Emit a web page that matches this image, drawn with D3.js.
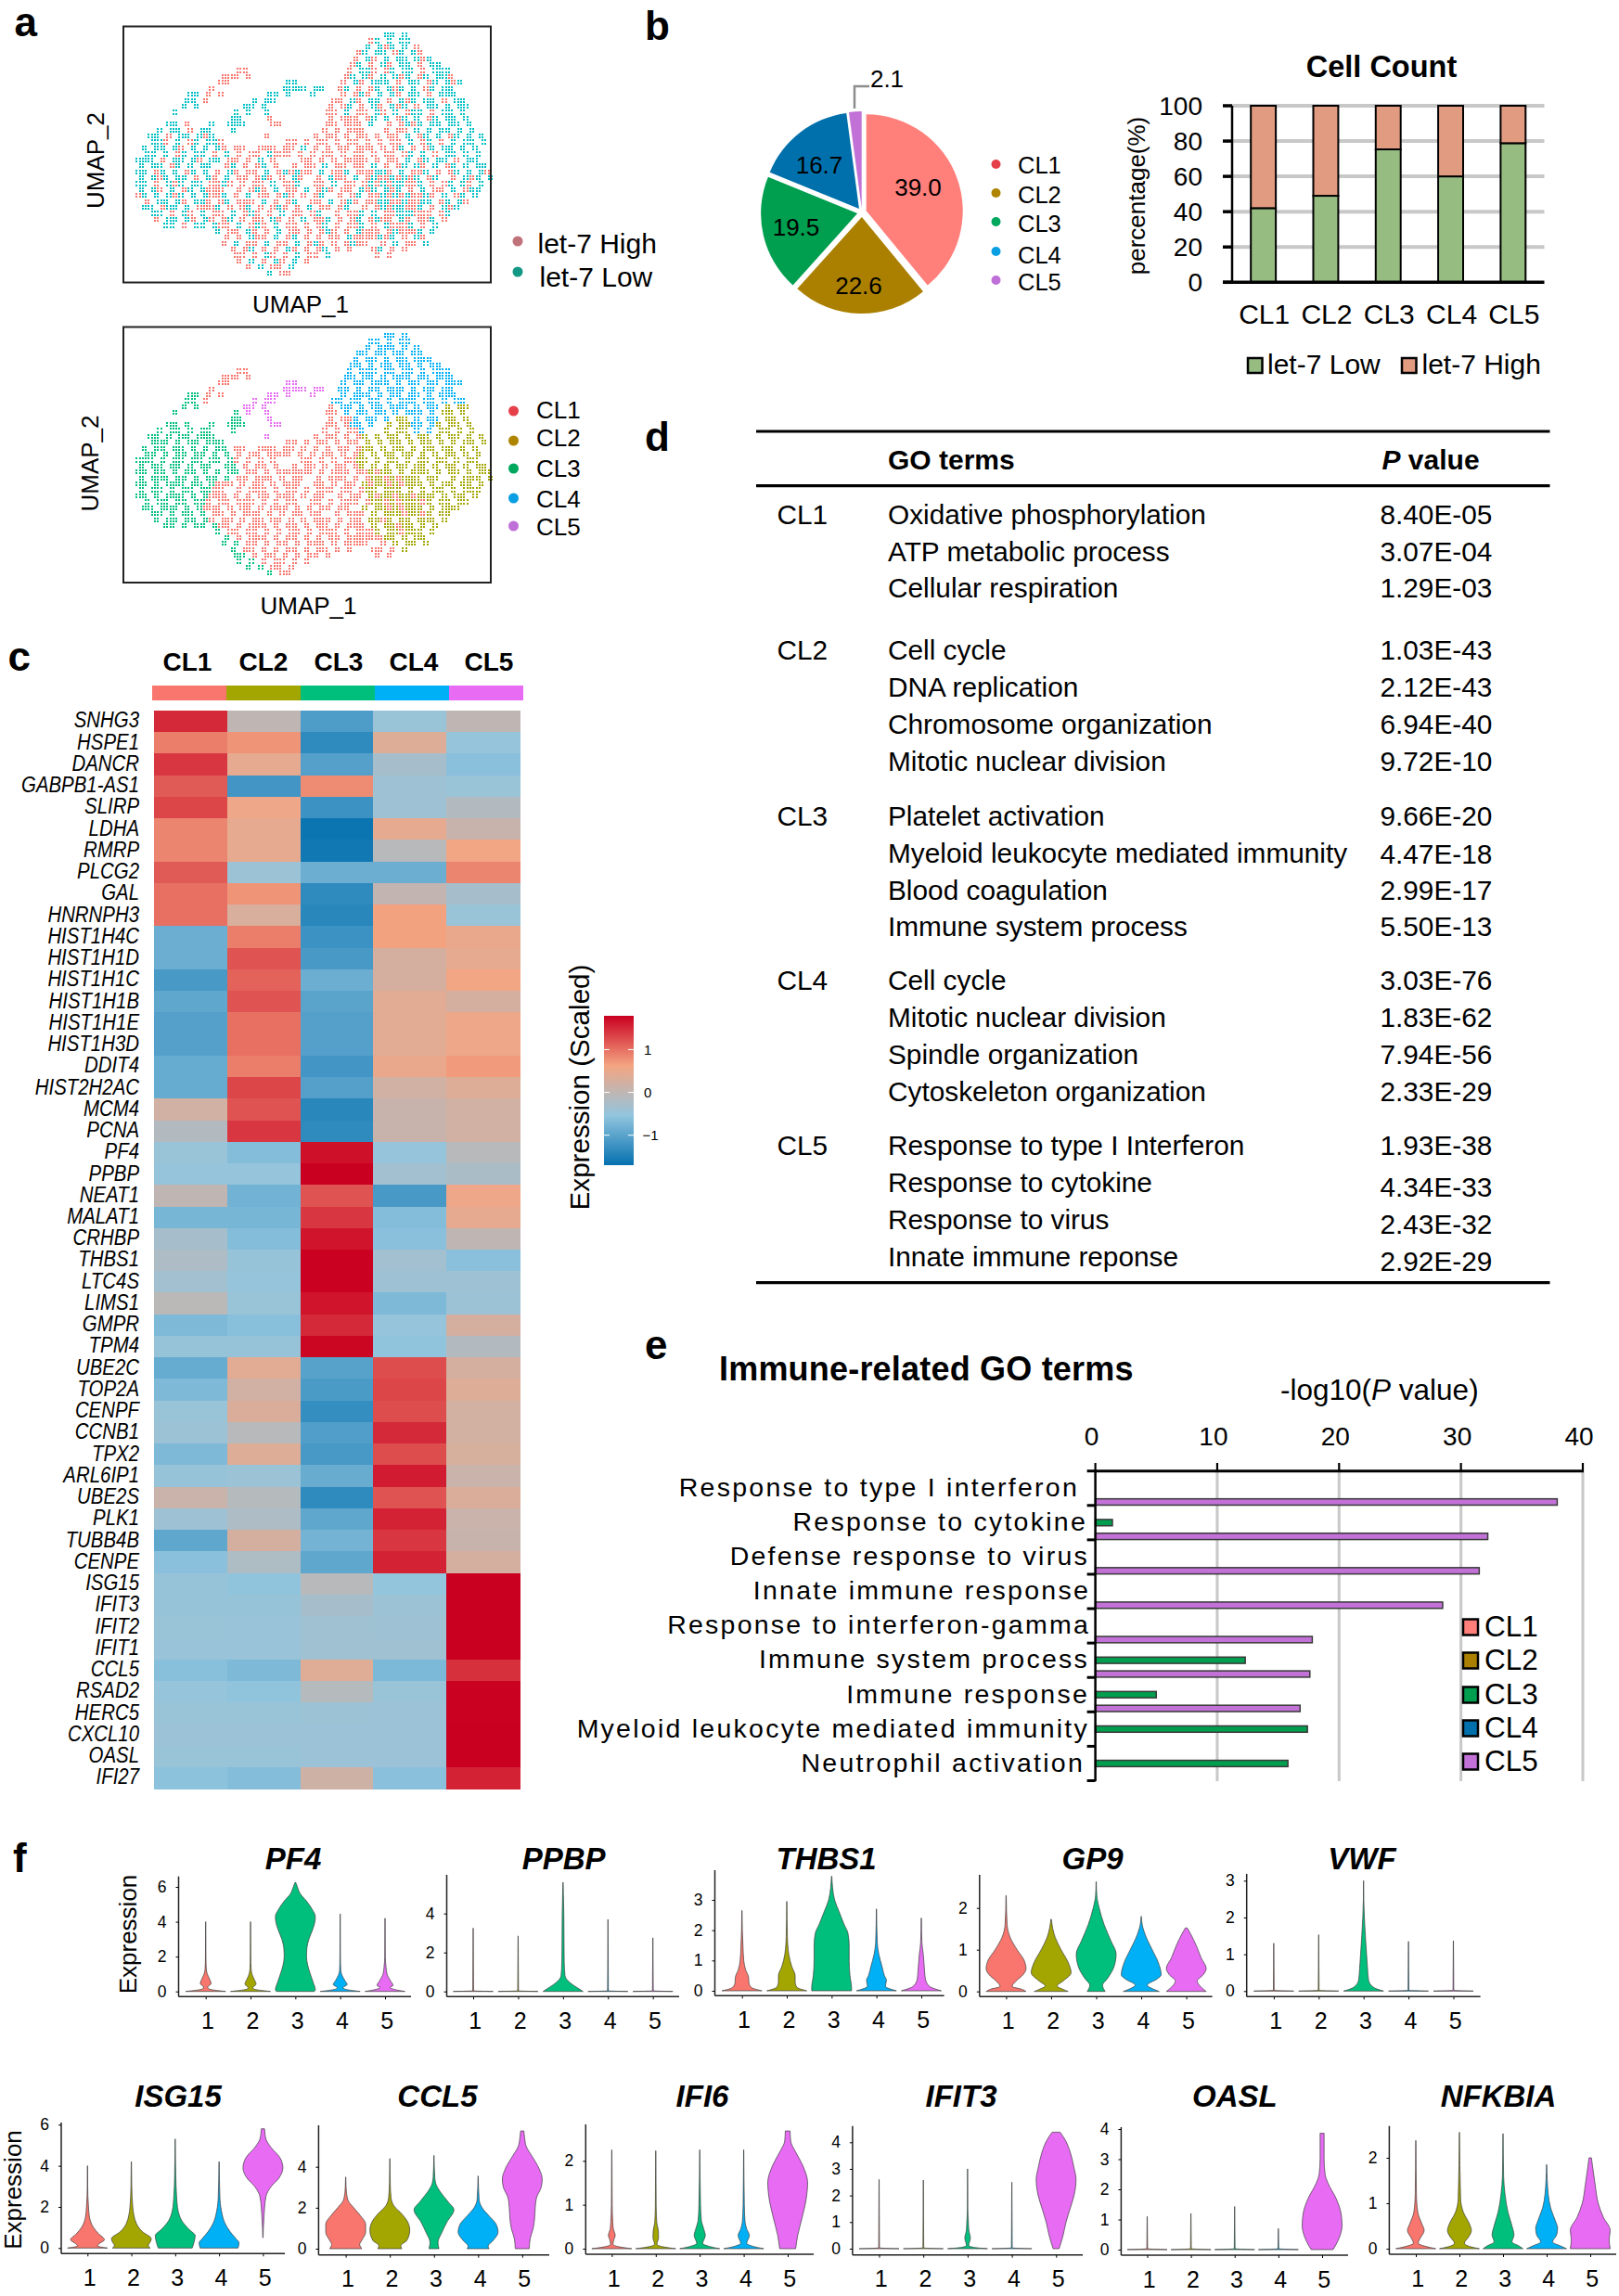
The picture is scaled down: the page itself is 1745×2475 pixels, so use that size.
<!DOCTYPE html>
<html><head><meta charset="utf-8">
<script src="https://cdn.jsdelivr.net/npm/d3@7"></script>
<style>html,body{margin:0;padding:0;background:#fff}svg{display:block}text{font-family:"Liberation Sans",Arial,sans-serif;fill:#000}</style>
</head><body><svg id="fig" width="1745" height="2475" viewBox="0 0 1745 2475"></svg>
<script>
// ---------- DATA ----------
const clusterNames = ["CL1","CL2","CL3","CL4","CL5"];
const umapClusterRows = ["",
"42:44 4","40:44 4 44","39:4 444 4 4","38:44 44 44 44","37:4 44 4 44 444","37:44 4 44 44 4 44","18:11|36:4 444 44 44 4 444",
"16:111 1|36:44 44 4 444 44 444","15:11|26:55|35:4 44 444 4 44 44 444","14:1|26:555|29:5 55|35:44 4 44 444 4 44 44",
"10:33 1 1|23:55 5|30:5|35:4 444 4 44 44 4 444","10:33|13:1|21:5 55|34:44 44 44 4 444 44 4 44","9:3 3|19:55 5|33:1 44 4 44 444 4 44|52:2 22",
"8:3|18:3 5|23:5|33:11 4 44 44 4 444 4|52:22 2","17:33|23:5|33:1 11|37:4 44 4|44:22 2|47:4 44 4|52:22 2",
"7:33 3|14:3|17:333|24:55|33:11 1|37:44 4|43:2 22|47:44 4|51:2 22 2","5:3 33 3 33|13:3|17:3|32:1 1 11|38:4|42:2 22 2|47:4 4|51:22 2 2",
"4:33 3 33 33|14:3|23:5|31:1 11 1 1|39:2|41:2 22 2 22 2 22 2 2","4:333 3 33 3|14:33|26:11 1|31:11 1 11 1|39:2 2 22 2 22 2 2 22 2",
"3:3 33 33 3 3|15:33 1|19:1|22:11|24:1 11 1 1|31:1 1 11 1|39:22 2 22 2 22 22 2 2","3:33 3 33 33 3|16:3 1 11 1 1|24:1 1 1|30:1 11 1 1|38:2 2 22 22 2 2 22 2 2",
"2:333 3 33 33 3|15:3 3|18:1 1 1 1|29:11 1 1 11|38:22 2 22 2 22 22 2 22","2:3 33 33 3 33|16:33 1 11 1|27:1 11 1 11 1|38:2 2 2 22 22 2 22 2 22",
"2:33 33 3 33 3|15:3 33 11 1 111 1|27:11 1 1 111 11 1|40:2 22 2 222 2 22 2 22","2:3 333 33 3 33|14:3 3 11 111 1 11  1 111 1 11 1 11 1 11|40:22 2 222 22  2 222 2",
"2:33 3 333 33 3|15:111 1 11 1 111  11 1 11 111 1 11|39:2 22 2 222 2 22 22 2","2:3 33 3 33 333|14:11  1 111 1 11 1 111 11 1 1 111 1|39:22 222 2 2 22 2 222",
"2:33 3 333 3 33|14:111 1 1 11 111 1 11  1 11 111 1 11|40:2 22 22 222 2 22 2","3:3 33 33 333|13:1 11 111 1 1 11  11 1 111 1 11 1 111|40:22 2 222 2 22 22",
"3:33 333 3 33|13:111 1 11 1 111 1 1 11 11  1 111 1 11|39:2 22 2 222 2 222","4:33 3 33 3|14:11 1 111 1 1 11 11  1 111 1 1 11 111|40:2 222 22 2 22",
"5:3 33 33 3|14:1 11 1 11 11 1 1 111 1 11 1 11 1|40:22 2 22 222 2","6:33 3 33 3|15:11 1 111 1 11 1 11 1 111 1 1 11|40:2 22 22 2 2",
"15:3 11 11 1 1 11 1 111 1 1 11 1 11|39:1|41:2 22 222 2","16:3 1 111 1 11 1 1 11 11 1 1 1|38:1|40:1 22 2 22",
"16:3 3 11 1 11 1 111 1 11 1|38:11|42:1 2 22 2","17:3 11 1 1 11 1 11 1 1|40:11 1 2","18:33 1 11 1 1 11 1|41:1 1",
"18:3 3 1 11 1 1","20:3 3 11 1","23:3 11"];
const umapGroupRows = ["",
"42:ll l","40:hl l ll","39:l lhl l h","38:hl ll hl lh","37:h lh l ll lhl","37:hl h lh ll h ll","18:hh|36:h llh hl ll h lll",
"16:hhh h|36:hl lh l lhl hl llh","15:hh|26:ll|35:h lh lll h ll hl lhl","14:h|26:lll|29:l ll|35:hl h hl lhl l hl ll",
"10:ll h h|23:ll l|30:l|35:h hlh l lh ll h lll","10:ll|13:h|21:l ll|34:hh lh ll h lhl ll h ll","9:l l|19:ll l|33:h hl h lh lhl h ll|52:l ll",
"8:l|18:l l|23:l|33:hh l hh lh l hll h|52:ll l","17:ll|23:h|33:h hh|37:h hl l|44:hl h|47:l hl l|52:ll l",
"7:ll h|14:l|17:lll|24:hh|33:hh h|37:hh l|43:h hl|47:hl l|51:l ll l","5:l ll h ll|13:l|17:l|32:h h hh|38:h|42:h hh l|47:l l|51:ll l l",
"4:ll h ll lh|14:l|23:h|31:h hh h h|39:h|41:h hh l hl l hl l l","4:llh l hl l|14:lh|26:hh h|31:hh h hh h|39:h h hh l hl h l ll l",
"3:l ll lh l l|15:lh h|19:h|22:hh|24:h hh l h|31:h h hh h|39:hh h hl h hl ll l l","3:ll l hl ll h|16:l h hh l h|24:h h h|30:h hh h h|38:h h hh hl l h ll l l",
"2:lll h ll lh l|15:l h|18:h h l h|29:hh h h hh|38:hh h hh l hl ll h ll","2:l ll hl l ll|16:hl h hl h|27:h hh l hh h|38:h l h hl lh l hl l ll",
"2:ll hl l hl l|15:h lh hh l hlh h|27:hl h l hhl hh l|40:h lh l hhl h hl l lh","2:l lhl ll h ll|14:h l hh hlh h lh  h lhh l hh h hl h hh|40:lh l lhl hl  h lhl l",
"2:ll h lhl ll h|15:hlh h hh l hhl  hh l hh hlh h lh|39:h hl l hhl h hl lh l","2:l lh l hl lhl|14:hh  h hlh l hh l hlh hh l h hlh h|39:hl lhl h l hh l hll",
"2:hl l lhl l lh|14:hhl h l hh hlh h hl  h hl hhh l hh|40:h lh hl hlh l hl l","3:h ll lh llh|13:h hl hhh l h hl  hh l hlh h hl h hhl|40:hl h lhh l hl lh",
"3:ll hll l hl|13:hhl h hl h hlh h l hh hl  h hlh l hh|39:h hl l hhl h lhl","4:ll h lh l|14:hh l hlh h l hh hl  h hhl h l hl hhh|40:l hhl lh h hl",
"5:h ll lh l|14:h hl h hh lh h l hhl h hl l hh h|40:hl h lh hhl h","6:ll h ll l|15:hh l hlh l hh h hl h hhl h l hl|40:h lh hl h l",
"15:l hh lh h l hh h hlh h l hh l hl|39:h|41:h hl hhl l","16:h h lhh l hl h h hh lh h l h|38:h|40:h hl h lh",
"16:h l hh l hh l hlh h hl h|38:hh|42:h l hh l","17:h hl h h lh h hl h h|40:hl h h","18:hh h lh h l hh l|41:h h",
"18:h l h lh l h","20:h l hh l","23:l hh"];

const pieValues = [39.0,22.6,19.5,16.7,2.1];
const barCategories = clusterNames;
const let7Low = [42,49,75.3,60,78.8];
const let7High = [58,51,24.7,40,21.2];
const barTicks = [0,20,40,60,80,100];

const geneNames = ["SNHG3","HSPE1","DANCR","GABPB1-AS1","SLIRP","LDHA","RMRP","PLCG2","GAL","HNRNPH3","HIST1H4C","HIST1H1D","HIST1H1C","HIST1H1B","HIST1H1E","HIST1H3D","DDIT4","HIST2H2AC","MCM4","PCNA","PF4","PPBP","NEAT1","MALAT1","CRHBP","THBS1","LTC4S","LIMS1","GMPR","TPM4","UBE2C","TOP2A","CENPF","CCNB1","TPX2","ARL6IP1","UBE2S","PLK1","TUBB4B","CENPE","ISG15","IFIT3","IFIT2","IFIT1","CCL5","RSAD2","HERC5","CXCL10","OASL","IFI27"];
const heatValues = [
[1.5,0,-1.1,-.45,0],[.9,.75,-1.35,.35,-.5],[1.4,.45,-1.05,-.3,-.6],[1.15,-1.2,.8,-.4,-.45],[1.3,.55,-1.25,-.4,-.15],
[.85,.45,-1.65,.45,.1],[.85,.45,-1.6,-.1,.6],[1.15,-.42,-.85,-.85,.85],[1,.75,-1.35,.03,-.3],[1,.3,-1.4,.65,-.45],
[-.85,.9,-1.25,.65,.5],[-.85,1.2,-1.15,.25,.45],[-1.15,1.1,-.85,.25,.6],[-.95,1.2,-1,.4,.25],[-1.05,1,-1.05,.4,.55],
[-1.05,1,-1.05,.4,.55],[-.9,.9,-1.2,.5,.7],[-.9,1.3,-1.05,.2,.35],[.2,1.2,-1.4,.1,.2],[-.15,1.4,-1.35,.1,.2],
[-.45,-.65,1.68,-.5,-.1],[-.5,-.5,1.79,-.35,-.25],[0,-.8,1.2,-1.15,.55],[-.75,-.75,1.4,-.65,.45],[-.3,-.65,1.65,-.6,0],
[-.22,-.48,1.78,-.35,-.6],[-.35,-.5,1.78,-.4,-.4],[-.05,-.45,1.65,-.7,-.42],[-.7,-.62,1.5,-.5,.25],[-.48,-.48,1.75,-.55,-.15],
[-.9,.4,-1.02,1.25,.25],[-.7,.2,-1.12,1.3,.35],[-.45,.32,-1.3,1.25,.22],[-.42,-.1,-1.08,1.5,.22],[-.7,.35,-1.15,1.25,.28],
[-.48,-.42,-.88,1.6,.12],[.12,-.12,-1.35,1.2,.32],[-.4,-.22,-.95,1.55,.12],[-.95,.25,-.78,1.4,.1],[-.6,-.2,-.95,1.55,.25],
[-.48,-.55,-.1,-.52,1.79],[-.48,-.48,-.3,-.42,1.79],[-.45,-.47,-.38,-.4,1.79],[-.47,-.47,-.38,-.38,1.79],[-.62,-.7,.38,-.72,1.45],
[-.5,-.55,-.12,-.45,1.78],[-.45,-.45,-.42,-.43,1.78],[-.43,-.43,-.43,-.43,1.79],[-.45,-.45,-.43,-.43,1.79],[-.58,-.65,.18,-.6,1.55]];

const goCluster = ["CL1","","","CL2","","","","CL3","","","","CL4","","","","CL5","","",""];
const goTerms = ["Oxidative phosphorylation","ATP metabolic process","Cellular respiration","Cell cycle","DNA replication","Chromosome organization","Mitotic nuclear division","Platelet activation","Myeloid leukocyte mediated immunity","Blood coagulation","Immune system process","Cell cycle","Mitotic nuclear division","Spindle organization","Cytoskeleton organization","Response to type I Interferon","Response to cytokine","Response to virus","Innate immune reponse"];
const goPValues = ["8.40E-05","3.07E-04","1.29E-03","1.03E-43","2.12E-43","6.94E-40","9.72E-10","9.66E-20","4.47E-18","2.99E-17","5.50E-13","3.03E-76","1.83E-62","7.94E-56","2.33E-29","1.93E-38","4.34E-33","2.43E-32","2.92E-29"];

const immuneTerms = ["Response to type I interferon","Response to cytokine","Defense response to virus","Innate immune response","Response to interferon-gamma","Immune system process","Immune response","Myeloid leukocyte mediated immunity","Neutrophil activation"];
const immuneCL3 = [null,1.4,null,null,null,12.3,5,17.4,15.8];
const immuneCL5 = [37.9,32.2,31.5,28.5,17.8,17.6,16.8,null,null];
const immuneTicks = [0,10,20,30,40];

// violin outlines: per cluster, [expression, relative half width]
const violinPF4 = [
[[0,1],[.15,.15],[.25,.1],[.45,.27],[.7,.2],[1,.08],[1.3,.03],[2,.012],[4,.004]],
[[0,1],[.15,.15],[.22,.12],[.42,.28],[.7,.18],[1,.07],[1.3,.03],[2,.012],[4,.004]],
[[0,.95],[.1,1],[.5,.9],[1,.75],[1.5,.62],[2,.56],[2.5,.58],[3,.68],[3.5,.85],[4,.98],[4.3,1],[4.7,.85],[5.2,.55],[5.6,.25],[6,.1],[6.25,.02]],
[[0,1],[.15,.2],[.22,.15],[.4,.35],[.6,.25],[.9,.1],[1.2,.03],[2,.012],[4.45,.004]],
[[0,1],[.12,.45],[.22,.25],[.35,.4],[.6,.28],[1,.1],[1.4,.05],[2,.012],[4.2,.004]]];
const violinPPBP = [
[[0,1],[.03,.02],[3.25,.003]],[[0,1],[.03,.02],[2.85,.003]],
[[0,1],[.2,.7],[.5,.3],[.8,.1],[1.5,.06],[2.5,.05],[4,.04],[5,.02],[5.6,.005]],
[[0,1],[.03,.02],[3.7,.003]],[[0,1],[.03,.02],[2.75,.003]]];
const violinTHBS1 = [
[[0,1],[.1,.5],[.25,.35],[.45,.33],[.7,.18],[1,.09],[1.5,.05],[2,.02],[2.65,.005]],
[[0,1],[.12,.5],[.3,.42],[.5,.42],[.8,.25],[1.2,.1],[1.8,.03],[2.95,.005]],
[[0,1],[.1,1],[.5,.92],[1,.88],[1.5,.88],[1.9,.82],[2.2,.62],[2.6,.38],[3,.15],[3.4,.05],[3.78,.01]],
[[0,1],[.15,.45],[.35,.5],[.5,.4],[.8,.28],[1.2,.12],[1.6,.04],[2.7,.005]],
[[0,1],[.15,.4],[.4,.2],[.7,.16],[1.2,.1],[1.6,.03],[2.4,.005]]];
const violinGP9 = [
[[0,1],[.05,.8],[.12,.3],[.25,.5],[.4,.85],[.55,1],[.75,.9],[1,.55],[1.3,.2],[1.6,.05],[2.3,.005]],
[[0,.85],[.05,.6],[.13,.3],[.25,.6],[.45,1],[.7,.85],[1,.5],[1.3,.2],[1.73,.01]],
[[0,.45],[.15,.32],[.3,.55],[.6,.9],[.9,1],[1.2,.75],[1.6,.4],[2,.15],[2.3,.03],[2.63,.005]],
[[0,.9],[.08,.5],[.15,.3],[.3,.8],[.4,1],[.7,.85],[1,.55],[1.3,.25],[1.6,.05],[1.8,.005]],
[[0,1],[.1,.75],[.25,.55],[.4,.85],[.55,1],[.8,.75],[1.1,.5],[1.35,.25],[1.52,.05]]];
const violinVWF = [
[[0,1],[.02,.02],[1.3,.003]],[[0,1],[.02,.02],[1.53,.003]],
[[0,1],[.1,.5],[.3,.25],[.6,.2],[1,.15],[1.5,.09],[2,.04],[2.5,.01],[3,.003]],
[[0,1],[.02,.02],[1.35,.003]],[[0,1],[.02,.02],[1.37,.003]]];
const violinISG15 = [
[[0,1],[.1,.5],[.22,.6],[.4,.85],[.7,.55],[1,.3],[1.5,.1],[2,.05],[3,.01],[4,.005]],
[[0,.95],[.12,.85],[.3,.95],[.45,1],[.8,.55],[1.2,.25],[2,.07],[3,.02],[4.2,.005]],
[[0,.85],[.3,.95],[.6,1],[.9,.7],[1.3,.35],[1.8,.15],[2.5,.07],[3.5,.03],[5.3,.005]],
[[0,.95],[.25,1],[.45,.85],[.8,.55],[1.2,.3],[1.8,.12],[2.5,.04],[4.2,.005]],
[[.5,.005],[1.5,.05],[2.5,.15],[3,.42],[3.4,.8],[3.9,1],[4.4,.85],[4.9,.4],[5.3,.15],[5.6,.1],[5.8,.08]]];
const violinCCL5 = [
[[0,.8],[.08,.75],[.2,.7],[.4,.8],[.8,1],[1.2,1],[1.6,.75],[2,.4],[2.4,.1],[3,.02],[3.5,.005]],
[[0,.6],[.15,.55],[.4,.85],[.9,1],[1.3,.9],[1.7,.6],[2.1,.2],[2.5,.06],[3.2,.02],[4.4,.005]],
[[0,.25],[.3,.2],[.8,.4],[1.3,.65],[1.9,1],[2.3,.7],[2.8,.3],[3.1,.12],[3.5,.04],[4.55,.005]],
[[0,.55],[.12,.5],[.4,.75],[.8,1],[1.2,.9],[1.6,.55],[2,.2],[2.4,.05],[3.55,.005]],
[[0,.35],[.5,.4],[1,.55],[1.5,.62],[2,.65],[2.5,.72],[3,.95],[3.4,1],[3.9,.85],[4.5,.5],[5,.2],[5.4,.12],[5.75,.08]]];
const violinIFI6 = [
[[0,1],[.04,.4],[.1,.06],[.2,.1],[.3,.17],[.45,.08],[.6,.05],[1,.02],[2.25,.005]],
[[0,1],[.04,.4],[.1,.06],[.25,.14],[.4,.13],[.6,.05],[1,.02],[2.23,.005]],
[[0,1],[.05,.5],[.12,.15],[.3,.28],[.45,.2],[.65,.08],[1,.04],[2.25,.005]],
[[0,1],[.05,.5],[.12,.15],[.3,.28],[.45,.15],[.6,.07],[1,.03],[2.25,.005]],
[[0,.4],[.3,.5],[.7,.72],[1.2,.95],[1.5,1],[1.9,.75],[2.2,.4],[2.45,.15],[2.68,.12]]];
const violinIFIT3 = [
[[0,1],[.03,.02],[2.6,.003]],[[0,1],[.03,.02],[2.58,.003]],
[[0,1],[.05,.3],[.12,.06],[.4,.14],[.7,.06],[1,.04],[1.5,.01],[3,.003]],
[[0,1],[.03,.02],[2.5,.003]],
[[0,.15],[.5,.35],[1,.5],[1.5,.7],[2,.9],[2.6,1],[3.1,.88],[3.6,.72],[4.1,.45],[4.38,.2]]];
const violinOASL = [
[[0,1],[.03,.02],[1.1,.003]],[[0,1],[.03,.02],[1.2,.003]],[[0,1],[.03,.02],[1.43,.003]],[[0,1],[.03,.02],[.7,.003]],
[[0,.55],[.3,.8],[.8,1],[1.2,.95],[1.7,.7],[2.2,.3],[2.5,.15],[3,.1],[3.86,.1]]];
const violinNFKBIA = [
[[0,1],[.05,.5],[.12,.12],[.25,.25],[.4,.42],[.55,.3],[.8,.1],[1.2,.03],[2.38,.005]],
[[0,1],[.05,.5],[.12,.25],[.25,.45],[.4,.6],[.55,.5],[.8,.2],[1.1,.06],[2.56,.005]],
[[0,1],[.06,.8],[.15,.45],[.3,.55],[.5,.45],[.8,.25],[1.2,.1],[1.6,.03],[2.53,.005]],
[[0,1],[.06,.7],[.15,.3],[.3,.5],[.45,.55],[.6,.45],[.9,.2],[1.2,.08],[1.85,.005]],
[[0,1],[.2,.95],[.4,1],[.7,.65],[1,.4],[1.4,.25],[1.8,.12],[2,.06]]];

// ---------- STYLE / LAYOUT ----------
const ggColors = ["#F8766D","#A3A500","#00BF7D","#00B0F6","#E76BF3"];
const officeColors = ["#FF7F7B","#AB8000","#009E4F","#0070AC","#C271D6"];
const dotColors = ["#E5404A","#AE8400","#00A85E","#0A9FE2","#BF6FD8"];
const svg = d3.select("#fig");

function T(g,s,x,y,size,o={}){
  const t=g.append("text").text(s).attr("font-size",size)
    .attr("text-anchor",o.anchor||"start").attr("font-weight",o.weight||"normal").attr("font-style",o.style||"normal");
  const dy=.36*size; let tr=`translate(${x},${y})`;
  if(o.rot) tr+=` rotate(${o.rot})`;
  if(o.sx) tr+=` scale(${o.sx},1)`;
  t.attr("transform",tr).attr("y",dy);
  if(o.ls) t.attr("letter-spacing",o.ls);
  if(o.fill) t.style("fill",o.fill);
  return t;
}
["a",15.5,39,"b",695,43,"c",8.5,723,"d",695,486,"e",695,1465,"f",14,2018].forEach((v,i,arr)=>{
  if(i%3===0) svg.append("text").text(v).attr("x",arr[i+1]).attr("y",arr[i+2]).attr("font-size",44).attr("font-weight","bold");
});

// ---------- a: UMAP ----------
function parseRows(rows){const out=[];rows.forEach((row,r)=>{if(!row)return;row.split("|").forEach(seg=>{const i=seg.indexOf(":"),st=+seg.slice(0,i);[...seg.slice(i+1)].forEach((ch,k)=>{if(ch!==" ")[0,.5].forEach(a=>[0,.5].forEach(b=>out.push({col:st+k+(r%2?.5:0)+a,row:r+b,ch})));});});});return out;}
function umap(rows,colorOf,top,bottom){
  const x=d3.scaleLinear([0,60],[133,529]).interpolate(d3.interpolateRound), y=d3.scaleLinear([0,43],[top,bottom]).interpolate(d3.interpolateRound);
  const g=svg.append("g").attr("shape-rendering","crispEdges");
  g.selectAll("rect").data(parseRows(rows)).join("rect").attr("x",d=>x(d.col)).attr("y",d=>y(d.row))
    .attr("width",2).attr("height",2).attr("fill",d=>colorOf(d.ch));
  svg.append("rect").attr("x",133).attr("y",top).attr("width",396).attr("height",bottom-top).attr("fill","none").attr("stroke","#222").attr("stroke-width",2);
}
umap(umapGroupRows,c=>c==="h"?"#F8766D":"#00BFC4",28.5,304.5);
umap(umapClusterRows,c=>ggColors[+c-1],352.5,628);
T(svg,"UMAP_1",324,327.5,26,{anchor:"middle"});
T(svg,"UMAP_1",332.5,652.5,26,{anchor:"middle"});
T(svg,"UMAP_2",102.5,173,26,{anchor:"middle",rot:-90});
T(svg,"UMAP_2",97,499.5,26,{anchor:"middle",rot:-90});
[["let-7 High","#C0737A",260,262,579.5],["let-7 Low","#129884",293,298,581.5]].forEach(d=>{
  svg.append("circle").attr("cx",558).attr("cy",d[2]).attr("r",5.5).attr("fill",d[1]);
  T(svg,d[0],d[4],d[3],30);
});
clusterNames.forEach((c,i)=>{
  svg.append("circle").attr("cx",553.5).attr("cy",[443,475,505,537,567][i]).attr("r",5.5).attr("fill",dotColors[i]);
  T(svg,c,578,[442,472,505,538,568][i],26);
});

// ---------- b: pie ----------
{
  const g=svg.append("g").attr("transform","translate(929,229)");
  const arcs=d3.pie().sort(null)(pieValues), arc=d3.arc().innerRadius(0).outerRadius(104), explode=5;
  g.selectAll("path").data(arcs).join("path").attr("d",arc).attr("fill",(d,i)=>officeColors[i])
    .attr("transform",d=>{const m=(d.startAngle+d.endAngle)/2;return `translate(${explode*Math.sin(m)},${-explode*Math.cos(m)})`;});
  [[989.5,202],[925.5,308],[858,245],[883,178]].forEach((p,i)=>T(svg,pieValues[i].toFixed(1),p[0],p[1],26,{anchor:"middle"}));
  T(svg,pieValues[4].toFixed(1),956,85,26,{anchor:"middle"});
  svg.append("path").attr("d","M921,117V93H937").attr("fill","none").attr("stroke","#8c8c8c").attr("stroke-width",2.5);
  clusterNames.forEach((c,i)=>{
    svg.append("circle").attr("cx",1073.5).attr("cy",[177,208,239,271,302][i]).attr("r",5).attr("fill",dotColors[i]);
    T(svg,c,1097,[178,210,241,275,304][i],25.5);
  });
}
// ---------- b: stacked bars ----------
{
  const y=d3.scaleLinear([0,100],[304.3,114]), x=d3.scaleBand(barCategories,[1328,1664.5]).paddingInner(.6).paddingOuter(.3);
  const g=svg.append("g");
  g.selectAll(".gl").data(barTicks.slice(1)).join("line").attr("x1",1328).attr("x2",1664.5).attr("y1",y).attr("y2",y).attr("stroke","#c8c8c8").attr("stroke-width",4);
  const rows=barCategories.map((c,i)=>({c,low:let7Low[i],high:let7High[i]}));
  const st=d3.stack().keys(["low","high"])(rows);
  g.selectAll(".s").data(st).join("g").attr("fill",(d,i)=>["#97BC82","#E09B80"][i])
    .selectAll("rect").data(d=>d).join("rect").attr("x",d=>x(d.data.c)).attr("width",x.bandwidth()).attr("y",d=>y(d[1])).attr("height",d=>y(d[0])-y(d[1])).attr("stroke","#000").attr("stroke-width",2);
  g.append("line").attr("x1",1328).attr("x2",1328).attr("y1",114).attr("y2",304.3).attr("stroke","#000").attr("stroke-width",2.5);
  g.append("line").attr("x1",1318).attr("x2",1664.5).attr("y1",304.3).attr("y2",304.3).attr("stroke","#000").attr("stroke-width",3.5);
  g.selectAll(".tk").data(barTicks).join("line").attr("x1",1318).attr("x2",1328).attr("y1",y).attr("y2",y).attr("stroke","#000").attr("stroke-width",3.5);
  barTicks.forEach(v=>T(svg,v,1296,y(v),28,{anchor:"end"}));
  barCategories.forEach(c=>T(svg,c,x(c)+x.bandwidth()/2+1,338,30,{anchor:"middle"}));
  T(svg,"percentage(%)",1225,211,26,{anchor:"middle",rot:-90});
  T(svg,"Cell Count",1489,71.5,32.5,{anchor:"middle",weight:"bold"});
  [["let-7 Low","#97BC82",1345,1366],["let-7 High","#E09B80",1511,1532.5]].forEach(d=>{
    svg.append("rect").attr("x",d[2]).attr("y",386).attr("width",15.5).attr("height",16).attr("fill",d[1]).attr("stroke","#000").attr("stroke-width",2.5);
    T(svg,d[0],d[3],392,30);
  });
}

// ---------- c: heatmap ----------
{
  const color=d3.scaleLinear([-1.7,-.537,.627,1.79],["#0571B0","#92C5DE","#F4A582","#CA0020"]);
  const x=d3.scaleBand(clusterNames,[166,560]), y=d3.scaleBand(geneNames,[766,1928]);
  const g=svg.append("g").attr("shape-rendering","crispEdges");
  heatValues.forEach((row,r)=>{
    g.selectAll(null).data(row).join("rect").attr("x",(d,i)=>x(clusterNames[i])).attr("y",y(geneNames[r]))
      .attr("width",x.bandwidth()+.5).attr("height",y.bandwidth()+.5).attr("fill",d=>color(d));
  });
  geneNames.forEach(n=>T(svg,n,150,y(n)+y.bandwidth()/2-1.8,24,{anchor:"end",style:"italic",sx:.85}));
  const ax=d3.scaleBand(clusterNames,[164,564]);
  clusterNames.forEach((c,i)=>{
    g.append("rect").attr("x",ax(c)).attr("y",739).attr("width",ax.bandwidth()).attr("height",15.5).attr("fill",ggColors[i]);
    T(svg,c,[202,284,365,446,527][i],712.5,28,{anchor:"middle",weight:"bold"});
  });
  const defs=svg.append("defs"), lg=defs.append("linearGradient").attr("id","heatG").attr("x1",0).attr("x2",0).attr("y1",1).attr("y2",0);
  [-1.7,-.537,.627,1.79].forEach((v,i)=>lg.append("stop").attr("offset",i/3).attr("stop-color",color(v)));
  const ly=d3.scaleLinear([-1.7,1.79],[1256,1095]);
  svg.append("rect").attr("x",651).attr("y",1095).attr("width",32).attr("height",161).attr("fill","url(#heatG)");
  [-1,0,1].forEach(v=>{
    [[651,657],[677,683]].forEach(p=>svg.append("line").attr("x1",p[0]).attr("x2",p[1]).attr("y1",ly(v)).attr("y2",ly(v)).attr("stroke","#fff").attr("stroke-width",1));
    T(svg,v<0?"\u22121":v,v<0?692.5:694,ly(v),15,{});
  });
  T(svg,"Expression (Scaled)",624,1172,29.6,{anchor:"middle",rot:-90});
}

// ---------- d: table ----------
{
  const rowY=[554,594,633,700,740,780,820,879,919,959,998,1056,1096,1136,1176,1234,1274,1314,1354];
  const pY=[554,594,633,700,740,780,820,879,920,959,998,1056,1096,1136,1176,1234,1279,1319,1359];
  [465,523.7,1382.7].forEach(v=>svg.append("line").attr("x1",815).attr("x2",1670.5).attr("y1",v).attr("y2",v).attr("stroke","#000").attr("stroke-width",3.2));
  T(svg,"GO terms",957,495.5,30,{weight:"bold"});
  const h=T(svg,"",1489.5,495.5,30,{weight:"bold"});
  h.append("tspan").attr("font-style","italic").text("P");h.append("tspan").text(" value");
  goTerms.forEach((t,i)=>{
    if(goCluster[i]) T(svg,goCluster[i],837.4,rowY[i],29.8);
    T(svg,t,957,rowY[i],29.8);
    T(svg,goPValues[i],1487.4,pY[i],29.8);
  });
}

// ---------- e: immune bars ----------
{
  const x=d3.scaleLinear([0,40],[1180.6,1706]), y=d3.scaleBand(immuneTerms,[1585.7,1919.5]);
  const sub=d3.scaleBand(clusterNames,[0,y.bandwidth()]);
  const g=svg.append("g");
  immuneTicks.slice(1).forEach(v=>g.append("line").attr("x1",x(v)).attr("x2",x(v)).attr("y1",1585.7).attr("y2",1920).attr("stroke","#c8c8c8").attr("stroke-width",3));
  [[immuneCL3,"CL3"],[immuneCL5,"CL5"]].forEach(([arr,k])=>{
    g.selectAll(null).data(arr.map((v,i)=>({v,t:immuneTerms[i]})).filter(d=>d.v!==null)).join("rect")
      .attr("x",x(0)).attr("y",d=>y(d.t)+sub(k)+.3).attr("width",d=>x(d.v)-x(0)).attr("height",sub.bandwidth()-.6)
      .attr("fill",officeColors[clusterNames.indexOf(k)]).attr("stroke","#3a3a3a").attr("stroke-width",1.5);
  });
  g.append("line").attr("x1",x(0)).attr("x2",x(0)).attr("y1",1585.7).attr("y2",1920).attr("stroke","#000").attr("stroke-width",2.5);
  g.append("line").attr("x1",x(0)-1).attr("x2",x(40)+1).attr("y1",1585.7).attr("y2",1585.7).attr("stroke","#000").attr("stroke-width",3);
  immuneTicks.forEach(v=>{
    g.append("line").attr("x1",x(v)).attr("x2",x(v)).attr("y1",1577).attr("y2",1585.7).attr("stroke","#000").attr("stroke-width",2.2);
    T(svg,v,x(v)-4,1548,28,{anchor:"middle"});
  });
  immuneTerms.forEach(t=>g.append("line").attr("x1",x(0)-9).attr("x2",x(0)).attr("y1",y(t)).attr("y2",y(t)).attr("stroke","#000").attr("stroke-width",3));
  g.append("line").attr("x1",x(0)-9).attr("x2",x(0)).attr("y1",1919.5).attr("y2",1919.5).attr("stroke","#000").attr("stroke-width",3);
  const nudge=[-9,0,2,3,3,2,2,2,-3];
  immuneTerms.forEach((t,i)=>T(svg,t,1172+nudge[i],y(t)+y.bandwidth()/2-1.5,28.5,{anchor:"end",ls:2.25}));
  T(svg,"Immune-related GO terms",775,1475,36,{weight:"bold",ls:.2});
  const lab=T(svg,"",1380,1498,31.5,{});
  lab.append("tspan").text("-log10(");lab.append("tspan").attr("font-style","italic").text("P");lab.append("tspan").text(" value)");
  clusterNames.forEach((c,i)=>{
    const cy=[1754,1790,1827,1863,1899][i];
    svg.append("rect").attr("x",1577).attr("y",cy-8.5).attr("width",16).attr("height",17).attr("fill",officeColors[i]).attr("stroke","#000").attr("stroke-width",2.5);
    T(svg,c,1600,cy-1,31.5);
  });
}

// ---------- f: violins ----------
const violinPanels = [
 {gene:"PF4",d:violinPF4,ax:192.5,end:443,base:2152.3,top:2022.7,zero:2146.7,tMax:6,yMax:2034,c1:221.7,c5:415,tx:316,ty:2003,ticks:[0,2,4,6]},
 {gene:"PPBP",d:violinPPBP,ax:481.5,end:732,base:2152.3,top:2021,zero:2146.7,tMax:4,yMax:2062.7,c1:510,c5:703.7,tx:607.7,ty:2003,ticks:[0,2,4]},
 {gene:"THBS1",d:violinTHBS1,ax:770.5,end:1017.6,base:2151.3,top:2016,zero:2146,tMax:3,yMax:2048,c1:799.7,c5:993,tx:890.6,ty:2003,ticks:[0,1,2,3]},
 {gene:"GP9",d:violinGP9,ax:1055.8,end:1306.6,base:2152.3,top:2021,zero:2146.7,tMax:2,yMax:2056.7,c1:1084.4,c5:1278.6,tx:1177.6,ty:2003,ticks:[0,1,2]},
 {gene:"VWF",d:violinVWF,ax:1343.7,end:1595.6,base:2152.3,top:2020,zero:2146.3,tMax:3,yMax:2027.3,c1:1372.9,c5:1566.5,tx:1468,ty:2003,ticks:[0,1,2,3]},
 {gene:"ISG15",d:violinISG15,ax:66,end:307,base:2429.3,top:2288,zero:2423.3,tMax:6,yMax:2290.3,c1:94.3,c5:283.4,tx:192,ty:2259.3,ticks:[0,2,4,6]},
 {gene:"CCL5",d:violinCCL5,ax:343.4,end:592,base:2430.7,top:2291,zero:2424,tMax:4,yMax:2335.7,c1:372.6,c5:562.9,tx:471.4,ty:2259.3,ticks:[0,2,4]},
 {gene:"IFI6",d:violinIFI6,ax:631.3,end:877,base:2430,top:2290,zero:2424,tMax:2,yMax:2329.3,c1:659.4,c5:849,tx:757,ty:2259.3,ticks:[0,1,2]},
 {gene:"IFIT3",d:violinIFIT3,ax:918.9,end:1167,base:2430.7,top:2291.7,zero:2424,tMax:4,yMax:2309.3,c1:947.5,c5:1138.3,tx:1036,ty:2259.3,ticks:[0,1,2,3,4]},
 {gene:"OASL",d:violinOASL,ax:1208.4,end:1453,base:2431,top:2293,zero:2425,tMax:4,yMax:2295,c1:1236.5,c5:1425,tx:1330.8,ty:2259.3,ticks:[0,1,2,3,4]},
 {gene:"NFKBIA",d:violinNFKBIA,ax:1497.4,end:1742,base:2430,top:2291.7,zero:2424,tMax:2,yMax:2326,c1:1526,c5:1714,tx:1615,ty:2259.3,ticks:[0,1,2]}];
const w=d3.scaleLinear([0,1],[0,21.5]);
violinPanels.forEach(p=>{
  const y=d3.scaleLinear([0,p.tMax],[p.zero,p.yMax]), x=d3.scalePoint(["1","2","3","4","5"],[p.c1,p.c5]);
  const g=svg.append("g");
  p.d.forEach((prof,i)=>{
    const cx=x(String(i+1));
    const area=d3.area().curve(d3.curveMonotoneY).y(d=>y(d[0])).x0(d=>cx-w(d[1])).x1(d=>cx+w(d[1]));
    g.append("path").attr("d",area(prof)+"").attr("fill",ggColors[i]).attr("stroke","#3c3c3c").attr("stroke-width",.7);
  });
  g.append("line").attr("x1",p.ax).attr("x2",p.ax).attr("y1",p.top).attr("y2",p.base).attr("stroke","#222").attr("stroke-width",1.5);
  g.append("line").attr("x1",p.ax).attr("x2",p.end).attr("y1",p.base).attr("y2",p.base).attr("stroke","#222").attr("stroke-width",1.5);
  const ay=g.append("g").attr("transform",`translate(${p.ax},0)`).call(d3.axisLeft(y).tickValues(p.ticks).tickFormat(d3.format("d")).tickSize(3).tickPadding(10));
  ay.select(".domain").remove(); ay.selectAll("text").attr("font-size",17.5).attr("font-family","Liberation Sans");
  const ax=g.append("g").attr("transform",`translate(0,${p.base})`).call(d3.axisBottom(x).tickSize(3).tickPadding(14));
  ax.select(".domain").remove(); ax.selectAll("text").attr("font-size",25).attr("font-family","Liberation Sans").attr("dx",1.8);
  T(svg,p.gene,p.tx,p.ty,33,{anchor:"middle",weight:"bold",style:"italic"});
});
T(svg,"Expression",137.5,2085,26,{anchor:"middle",rot:-90});
T(svg,"Expression",14,2360.5,26,{anchor:"middle",rot:-90});
</script></body></html>
